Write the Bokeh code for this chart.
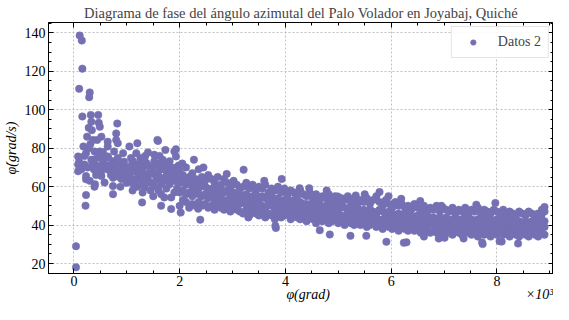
from bokeh.plotting import figure
from bokeh.models import Range1d, LinearAxis, FixedTicker, Legend, LegendItem, ColumnDataSource
from bokeh.embed import file_html
from bokeh.resources import INLINE

# ---------------- data (phi in units of 10^3 grad, dphi in grad/s) ----------------
early_phi = [
    0.04, 0.04, 0.11, 0.15, 0.16, 0.10, 0.30, 0.29, 0.16, 0.32,
    0.46, 0.33, 0.47, 0.49, 0.28, 0.82, 0.34, 0.80, 0.52, 0.36,
    0.44, 0.80, 0.64, 1.58, 1.59, 0.83, 1.20, 0.18, 0.64, 1.05,
    1.73, 1.90, 0.08, 0.23, 0.39, 0.49, 0.76, 1.40, 0.93, 1.18,
    1.52, 0.64, 0.83, 1.08, 1.26, 0.08, 0.08, 0.20, 0.33, 0.55,
    0.58, 0.74, 0.89, 0.99, 1.12, 1.27, 1.37, 1.52, 1.68, 1.81,
    1.93, 0.38, 0.64, 0.80, 0.96, 1.15, 1.30, 1.46, 1.59, 1.75,
    1.90, 0.23, 0.52, 0.74, 1.03, 1.21, 1.40, 1.56, 1.70, 1.84,
    0.23, 0.40, 0.58, 0.74, 0.39, 1.13, 1.30, 1.34, 1.52, 1.65,
    1.81, 1.97, 0.74, 1.30, 1.65, 1.71, 1.84, 0.23, 0.22, 1.29,
    1.65, 1.84, 1.00, 1.05, 1.10, 1.15, 1.20, 1.25, 1.30, 1.35,
    1.40, 1.45, 1.50, 1.55, 1.60, 1.65, 1.70, 1.75, 1.80, 1.85,
    1.90, 1.95, 1.98, 1.60, 1.75, 1.90, 1.45, 1.20, 1.00, 0.90,
    0.70, 0.60, 0.50, 0.45, 0.35, 0.28, 0.25, 0.30, 0.42, 0.55,
    0.65, 0.72, 0.85, 0.95, 0.88, 1.35, 1.62, 1.78, 1.95, 1.50,
    0.10, 0.14, 0.20, 0.26, 0.31, 0.37, 0.43, 0.51, 0.57, 0.63,
    0.69, 0.78, 0.86, 0.92, 1.02, 1.09, 1.17, 1.24, 1.33, 1.42,
    1.48, 1.54, 1.63, 1.72, 1.79, 1.87, 1.94, 1.99, 1.36, 1.11,
]
early_dphi = [
    18.0, 29.0, 138.6, 136.0, 121.4, 110.9, 109.0, 106.5, 96.5, 97.3,
    97.3, 93.7, 93.2, 91.1, 90.6, 92.8, 89.4, 87.7, 86.0, 84.3,
    84.3, 84.3, 83.4, 84.3, 83.8, 82.6, 82.6, 80.9, 80.9, 80.9,
    79.1, 78.3, 75.7, 77.4, 78.3, 78.3, 78.3, 77.8, 77.4, 77.4,
    76.6, 75.7, 74.9, 74.9, 74.9, 71.5, 68.0, 71.5, 74.0, 73.2,
    69.7, 73.2, 72.3, 69.7, 73.2, 70.6, 72.3, 73.2, 74.0, 73.2,
    75.7, 68.9, 68.9, 68.0, 66.3, 68.0, 66.3, 68.9, 67.2, 68.0,
    68.9, 65.5, 65.5, 64.6, 63.8, 63.8, 64.6, 63.8, 64.6, 65.5,
    63.8, 61.2, 62.1, 60.3, 60.0, 61.2, 62.1, 59.5, 60.3, 61.2,
    61.2, 62.1, 56.1, 56.9, 56.1, 54.4, 54.4, 55.6, 50.1, 51.8,
    50.1, 48.4, 70.0, 66.0, 72.0, 64.0, 68.0, 72.0, 69.0, 65.0,
    71.0, 62.0, 67.0, 71.0, 65.0, 69.0, 63.0, 72.0, 66.0, 70.0,
    63.0, 67.0, 71.0, 58.0, 59.0, 57.0, 58.0, 60.0, 62.0, 64.0,
    66.0, 71.0, 70.0, 75.0, 72.0, 80.0, 86.0, 63.0, 66.0, 78.0,
    75.0, 70.0, 68.0, 73.0, 60.0, 76.0, 76.0, 64.0, 59.0, 55.0,
    73.0, 69.0, 76.0, 70.0, 82.0, 74.0, 71.0, 67.0, 76.0, 71.0,
    69.0, 71.0, 65.0, 70.0, 67.0, 70.0, 71.0, 66.0, 74.0, 67.0,
    70.0, 66.0, 72.0, 69.0, 70.0, 67.0, 70.0, 65.0, 62.0, 58.0,
]

band_phi = [
    2.00, 2.06, 2.12, 2.18, 2.24, 2.30, 2.36, 2.42, 2.48, 2.54, 2.60, 2.66, 2.72, 2.78, 2.84, 2.90, 2.96, 3.02, 3.08, 3.14,
    3.20, 3.26, 3.32, 3.38, 3.44, 3.50, 3.56, 3.62, 3.68, 3.74, 3.80, 3.86, 3.92, 3.98, 4.04, 4.10, 4.16, 4.22, 4.28, 4.34,
    4.40, 4.46, 4.52, 4.58, 4.64, 4.70, 4.76, 4.82, 4.88, 4.94, 5.00, 5.06, 5.12, 5.18, 5.24, 5.30, 5.36, 5.42, 5.48, 5.54,
    5.60, 5.66, 5.72, 5.78, 5.84, 5.90, 5.96, 6.02, 6.08, 6.14, 6.20, 6.26, 6.32, 6.38, 6.44, 6.50, 6.56, 6.62, 6.68, 6.74,
    6.80, 6.86, 6.92, 6.98, 7.04, 7.10, 7.16, 7.22, 7.28, 7.34, 7.40, 7.46, 7.52, 7.58, 7.64, 7.70, 7.76, 7.82, 7.88, 7.94,
    8.00, 8.06, 8.12, 8.18, 8.24, 8.30, 8.36, 8.42, 8.48, 8.54, 8.60, 8.66, 8.72, 8.78, 8.84, 8.90,
]
band_hi = [
    68, 66, 70, 65, 67, 64, 69, 65, 63, 66, 64, 62, 65, 61, 64, 62, 60, 63, 61, 59,
    60, 62, 59, 61, 58, 60, 59, 61, 57, 59, 58, 60, 57, 59, 56, 58, 57, 55, 58, 56,
    55, 57, 54, 56, 53, 55, 54, 56, 53, 55, 52, 54, 53, 55, 52, 54, 51, 53, 52, 54,
    51, 53, 55, 52, 50, 53, 51, 49, 52, 50, 51, 49, 50, 48, 51, 49, 48, 50, 47, 49,
    48, 50, 47, 49, 48, 47, 49, 46, 48, 47, 49, 46, 48, 47, 49, 46, 48, 47, 46, 48,
    47, 46, 48, 45, 47, 46, 45, 47, 46, 45, 47, 46, 45, 46, 45, 47,
]
band_mid_hi = [
    62, 63, 61, 62, 60, 61, 59, 62, 60, 59, 58, 60, 57, 59, 57, 58, 56, 57, 55, 56,
    55, 56, 54, 55, 56, 53, 55, 54, 53, 55, 53, 54, 52, 53, 54, 52, 53, 51, 52, 51,
    51, 50, 52, 50, 51, 49, 50, 51, 49, 50, 48, 50, 49, 48, 50, 48, 49, 47, 48, 47,
    48, 47, 46, 48, 47, 46, 47, 46, 45, 46, 45, 46, 44, 45, 44, 45, 44, 45, 43, 44,
    44, 43, 44, 43, 44, 42, 43, 44, 42, 43, 44, 42, 43, 42, 43, 42, 44, 42, 43, 42,
    43, 42, 43, 41, 42, 43, 41, 42, 41, 42, 41, 42, 41, 42, 41, 42,
]
band_mid_lo = [
    57, 58, 56, 57, 55, 58, 56, 55, 56, 54, 55, 53, 54, 55, 52, 53, 54, 52, 53, 51,
    52, 51, 50, 52, 49, 51, 50, 49, 51, 50, 48, 50, 49, 48, 50, 47, 49, 48, 47, 49,
    47, 46, 48, 45, 47, 46, 47, 45, 46, 44, 46, 45, 44, 46, 45, 43, 45, 44, 45, 43,
    44, 43, 44, 42, 43, 44, 42, 43, 41, 42, 43, 41, 42, 40, 41, 42, 40, 41, 40, 41,
    40, 41, 39, 40, 41, 39, 40, 39, 40, 38, 40, 39, 38, 40, 39, 38, 40, 39, 38, 40,
    39, 38, 40, 39, 38, 39, 38, 39, 37, 39, 38, 39, 37, 39, 38, 39,
]
band_lo = [
    50, 53, 52, 49, 51, 50, 52, 50, 51, 49, 50, 48, 51, 49, 48, 50, 47, 49, 48, 47,
    46, 48, 45, 47, 46, 45, 47, 44, 46, 45, 43, 46, 44, 45, 46, 43, 45, 44, 43, 45,
    42, 44, 43, 41, 43, 42, 44, 41, 42, 43, 41, 42, 40, 42, 41, 40, 42, 40, 41, 39,
    40, 41, 39, 40, 38, 40, 39, 38, 39, 37, 39, 38, 37, 39, 37, 38, 36, 38, 37, 36,
    37, 36, 37, 35, 37, 36, 35, 37, 36, 35, 37, 36, 35, 36, 34, 36, 35, 36, 34, 36,
    35, 36, 35, 36, 34, 36, 35, 34, 36, 35, 34, 36, 35, 34, 36, 35,
]

edge_phi = [
    1.93, 2.27, 2.05, 2.45, 3.21, 2.89, 3.93, 3.60, 4.27, 4.45,
    4.78, 5.33, 4.99, 5.78, 6.19, 6.55, 6.95, 7.61, 7.97, 8.90,
    8.85, 5.50, 5.95, 2.02, 2.35, 2.39, 3.81, 3.82, 3.30, 4.65,
    4.84, 5.23, 5.53, 5.91, 6.24, 6.29, 6.62, 7.01, 7.37, 7.73,
    8.05, 8.40, 8.09, 7.72, 6.90,
]
edge_dphi = [
    79.5, 74.0, 72.0, 70.0, 68.8, 66.6, 64.0, 63.0, 59.2, 59.2,
    58.0, 55.4, 54.9, 57.2, 53.7, 52.5, 50.0, 50.6, 51.5, 49.4,
    48.0, 56.0, 55.0, 46.5, 48.5, 42.8, 39.6, 38.5, 44.0, 37.3,
    35.1, 34.4, 34.4, 31.3, 30.8, 31.0, 34.0, 33.4, 33.0, 30.1,
    31.6, 30.4, 31.4, 31.0, 33.0,
]

x_ticks = [0, 2, 4, 6, 8]
y_ticks = [20, 40, 60, 80, 100, 120, 140]
series_name = "Datos 2"
title_text = "Diagrama de fase del ángulo azimutal del Palo Volador en Joyabaj, Quiché"
x_label = "φ(grad)"
y_label = "φ̇(grad/s)"
x_mult = "×10³"

# ---------------- assemble ----------------
xs = list(early_phi) + list(edge_phi)
ys = list(early_dphi) + list(edge_dphi)
for track in (band_hi, band_mid_hi, band_mid_lo, band_lo):
    xs += band_phi
    ys += track
src = ColumnDataSource(dict(x=xs, y=ys))

SERIF = "Liberation Serif"
COLOR = "#7570b3"
X0, X1 = -0.48, 9.07
Y0, Y1 = 14.8, 145.4

p = figure(width=553, height=304, output_backend="svg", toolbar_location=None,
           x_range=Range1d(X0, X1), y_range=Range1d(Y0, Y1),
           min_border_left=40, min_border_right=0, min_border_top=15, min_border_bottom=30)
p.background_fill_color = "white"
p.border_fill_color = "white"
p.outline_line_color = "black"
p.outline_line_width = 1

p.title.text = title_text
p.title.text_font = SERIF
p.title.text_font_size = "14.5px"
p.title.text_font_style = "normal"
p.title.align = "center"
p.title.standoff = 4

x_minor = [t / 2 for t in range(-1, 19)]
y_minor = [t for t in range(15, 146, 5)]
xt = FixedTicker(ticks=x_ticks, minor_ticks=x_minor)
yt = FixedTicker(ticks=y_ticks, minor_ticks=y_minor)

def style_axis(ax, labels=True):
    ax.axis_line_color = "black"
    ax.axis_line_width = 1
    ax.major_tick_in = 5
    ax.major_tick_out = 0
    ax.minor_tick_in = 3
    ax.minor_tick_out = 0
    ax.major_tick_line_color = "black"
    ax.minor_tick_line_color = "black"
    if labels:
        ax.major_label_text_font = SERIF
        ax.major_label_text_font_size = "14px"
        ax.major_label_text_color = "black"
        ax.axis_label_text_font = SERIF
        ax.axis_label_text_font_size = "14px"
        ax.axis_label_text_font_style = "italic"
        ax.axis_label_text_color = "black"
    else:
        ax.major_label_text_font_size = "0px"
        ax.major_label_text_color = None
        ax.major_label_standoff = 0
        ax.axis_label = None

p.xaxis.ticker = xt
p.yaxis.ticker = yt
p.xaxis.axis_label = None
p.yaxis.axis_label = y_label
style_axis(p.xaxis[0])
style_axis(p.yaxis[0])
p.xaxis.major_label_standoff = 2
p.yaxis.major_label_standoff = 3
p.yaxis.axis_label_standoff = 3

# label-only axis stacked under the x axis: axis title and x10^3 multiplier
lab_ax = LinearAxis(ticker=FixedTicker(ticks=[4.43, 8.95], minor_ticks=[]),
                    major_label_overrides={4.43: x_label, 8.95: x_mult})
lab_ax.axis_line_color = None
lab_ax.major_tick_line_color = None
lab_ax.minor_tick_line_color = None
lab_ax.major_tick_in = 0
lab_ax.major_tick_out = 0
lab_ax.minor_tick_in = 0
lab_ax.minor_tick_out = 0
lab_ax.major_label_standoff = -2
lab_ax.major_label_text_font = SERIF
lab_ax.major_label_text_font_size = "14px"
lab_ax.major_label_text_font_style = "italic"
lab_ax.major_label_text_color = "black"
p.add_layout(lab_ax, "below")

# tick-only axes on top and right, pinned to the frame edges
top_ax = LinearAxis(ticker=FixedTicker(ticks=x_ticks, minor_ticks=x_minor), fixed_location=Y1)
right_ax = LinearAxis(ticker=FixedTicker(ticks=y_ticks, minor_ticks=y_minor), fixed_location=X1)
style_axis(top_ax, labels=False)
style_axis(right_ax, labels=False)
p.add_layout(top_ax, "above")
p.add_layout(right_ax, "right")

p.xgrid.ticker = xt
p.ygrid.ticker = yt
for g in (p.xgrid[0], p.ygrid[0]):
    g.grid_line_color = "#b0b0b0"
    g.grid_line_dash = "2 2"
    g.grid_line_width = 0.8

r = p.scatter("x", "y", source=src, size=7.5, fill_color=COLOR, line_color=COLOR, line_width=0.5)

legend = Legend(items=[LegendItem(label=series_name, renderers=[r])], location="top_right")
legend.label_text_font = SERIF
legend.label_text_font_size = "14px"
legend.padding = 7
legend.margin = 4
legend.glyph_width = 28
legend.glyph_height = 14
legend.label_height = 14
legend.label_standoff = 11
legend.border_line_color = "#cccccc"
legend.border_line_width = 1
legend.background_fill_color = "white"
legend.background_fill_alpha = 0.9
p.add_layout(legend)

open("out.html", "w").write(file_html(p, INLINE))
